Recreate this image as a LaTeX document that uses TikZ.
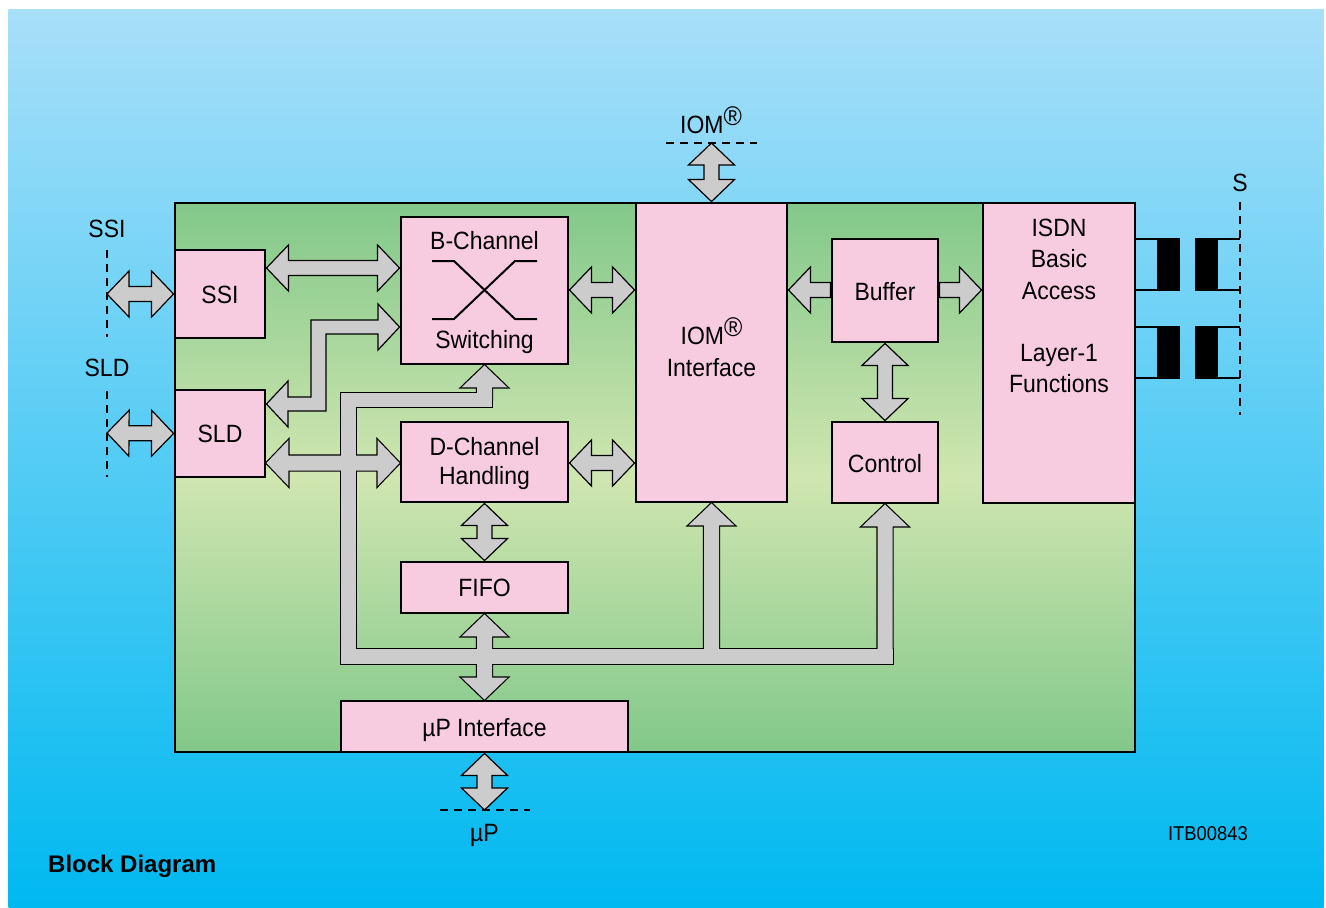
\documentclass[tikz,border=0pt]{standalone}
\usepackage{fontspec}
\setmainfont{Liberation Sans}[FakeStretch=0.92]
\newfontfamily\boldlabel{Liberation Sans}
\usetikzlibrary{calc}
\definecolor{bgtop}{RGB}{168,223,249}
\definecolor{bgbot}{RGB}{0,185,240}
\definecolor{gtop}{RGB}{130,200,138}
\definecolor{gmid}{RGB}{208,230,176}
\definecolor{pinkbox}{RGB}{248,204,224}
\definecolor{arrowgray}{RGB}{204,204,204}
\pgfdeclarelayer{back}
\pgfdeclarelayer{arr}
\pgfsetlayers{back,arr,main}
\newcommand\dblarrow[3][barrow]{%
  \path (#2) coordinate (tA) (#3) coordinate (tB);
  \coordinate (hA) at ($(tA)!22pt!(tB)$);
  \coordinate (hB) at ($(tB)!22pt!(tA)$);
  \path[#1] (tA) -- ($(hA)!23pt!90:(tB)$) -- ($(hA)!7.5pt!90:(tB)$) -- ($(hB)!7.5pt!-90:(tA)$) -- ($(hB)!23pt!-90:(tA)$) -- (tB) -- ($(hB)!23pt!90:(tA)$) -- ($(hB)!7.5pt!90:(tA)$) -- ($(hA)!7.5pt!-90:(tB)$) -- ($(hA)!23pt!-90:(tB)$) -- cycle;}
\newcommand\sglarrow[3][barrow]{%
  \path (#2) coordinate (tA) (#3) coordinate (tB);
  \coordinate (hA) at ($(tA)!22pt!(tB)$);
  \path[#1] (tA) -- ($(hA)!23pt!90:(tB)$) -- ($(hA)!7.5pt!90:(tB)$) -- ($(tB)!7.5pt!-90:(tA)$) -- ($(tB)!7.5pt!90:(tA)$) -- ($(hA)!7.5pt!-90:(tB)$) -- ($(hA)!23pt!-90:(tB)$) -- cycle;}
\newcommand\busgroup[1]{%
  \path[#1] (341,393) rectangle (356,664);
  \path[#1] (341,393) rectangle (492,407);
  \path[#1] (341,649) rectangle (892.5,664);
  \sglarrow[#1]{bch.south}{484.5,400}
  \sglarrow[#1]{iom.south}{711.5,656}
  \sglarrow[#1]{control.south}{885,656}
  \dblarrow[#1]{sld.east |- 0,463}{dch.west |- 0,463}
  \dblarrow[#1]{fifo.south}{mup.north}}
\begin{document}
\begin{tikzpicture}[x=1pt,y=-1pt,
  barrow/.style={fill=arrowgray,draw=black,line width=1.2,line join=miter},
  busout/.style={fill=arrowgray,draw=black,line width=2.4,line join=miter},
  busin/.style={fill=arrowgray},
  box/.style={draw=black,line width=2.9,fill=pinkbox,inner sep=0},
  txt/.style={font=\fontsize{25}{30}\selectfont,inner sep=0,anchor=base},
  dashline/.style={line width=1.3,dash pattern=on 8pt off 6pt},
  thinline/.style={line width=1.5},
  symline/.style={line width=2}]
\begin{pgfonlayer}{back}
\fill[white] (0,0) rectangle (1326,908);
\shade[top color=bgtop,bottom color=bgbot] (8.5,9) rectangle (1323.5,908);
\node[draw=black,line width=2.9,top color=gtop,bottom color=gtop,middle color=gmid,
  minimum width=960,minimum height=549,inner sep=0] (chip) at (655,477.5) {};
\end{pgfonlayer}
\useasboundingbox (0,0) rectangle (1326,908);
% boxes
\node[box,minimum width=90,minimum height=88] (ssi) at (220,294) {};
\node[box,minimum width=90,minimum height=87] (sld) at (220,433.5) {};
\node[box,minimum width=167,minimum height=147] (bch) at (484.5,290.5) {};
\node[box,minimum width=167,minimum height=80] (dch) at (484.5,462) {};
\node[box,minimum width=167,minimum height=51] (fifo) at (484.5,587.5) {};
\node[box,minimum width=287,minimum height=51] (mup) at (484.5,726.5) {};
\node[box,minimum width=151,minimum height=299] (iom) at (711.5,352.5) {};
\node[box,minimum width=106,minimum height=103] (buffer) at (885,290.5) {};
\node[box,minimum width=106,minimum height=81] (control) at (885,462.5) {};
\node[box,minimum width=152,minimum height=300] (isdn) at (1059,353) {};
% outside coordinates
\coordinate (iomext) at (711.5,143);
\coordinate (ssiext) at (107,294);
\coordinate (sldext) at (107,433);
\coordinate (mupext) at (484.5,810);
% arrows
\begin{pgfonlayer}{arr}
\dblarrow{iomext}{iom.north}
\dblarrow{ssiext}{ssi.west}
\dblarrow{sldext}{sld.west}
\dblarrow{ssi.east |- 0,268}{bch.west |- 0,268}
\dblarrow{bch.east |- 0,290}{iom.west |- 0,290}
\dblarrow{dch.east |- 0,463}{iom.west |- 0,463}
\dblarrow{buffer.south}{control.north}
\dblarrow{dch.south}{fifo.north}
\dblarrow{mup.south}{mupext}
\sglarrow{iom.east |- 0,290}{buffer.west |- 0,290}
\sglarrow{isdn.west |- 0,290}{buffer.east |- 0,290}
\path[barrow] (sld.east |- 0,404) -- (288,381) -- (288,397) -- (311,397) -- (311,320) -- (378,320) -- (378,304) -- (bch.west |- 0,327) -- (378,350) -- (378,334) -- (326,334) -- (326,411) -- (288,411) -- (288,427) -- cycle;
\busgroup{busout}
\busgroup{busin}
\end{pgfonlayer}
% switching symbol
\draw[symline] (432,261) -- (454,261) -- (515,319) -- (537,319);
\draw[symline] (432,319) -- (454,319) -- (515,261) -- (537,261);
% dashed lines
\draw[dashline] (666,143) -- (757,143);
\draw[dashline] (440,810) -- (530,810);
\draw[dashline] (107,250) -- (107,337);
\draw[dashline] (107,391) -- (107,477);
\draw[dashline] (1240,202) -- (1240,415);
% transformers
\foreach \ya/\yb in {239/290,327/378}{
  \draw[thinline] (isdn.east |- 0,\ya) -- (1180,\ya);
  \draw[thinline] (isdn.east |- 0,\yb) -- (1180,\yb);
  \draw[thinline] (1195,\ya) -- (1240,\ya);
  \draw[thinline] (1195,\yb) -- (1240,\yb);
  \fill[black] (1157,\ya) rectangle (1180,\yb);
  \fill[black] (1195,\ya) rectangle (1218,\yb);
}
% texts
\newcommand\reg{\raisebox{8pt}{\fontsize{27}{27}\selectfont ®}}
\node[txt] (tssi) at (220,303) {SSI};
\node[txt] (tsld) at (220,442) {SLD};
\node[txt] (tbch1) at (484.5,249) {B-Channel};
\node[txt] (tbch2) at (484.5,348) {Switching};
\node[txt] (tdch1) at (484.5,455) {D-Channel};
\node[txt] (tdch2) at (484.5,484) {Handling};
\node[txt] (tfifo) at (484.5,596) {FIFO};
\node[txt] (tmup) at (484.5,736) {µP Interface};
\node[txt] (tiom1) at (711.5,344) {IOM\reg};
\node[txt] (tiom2) at (711.5,376) {Interface};
\node[txt] (tbuf) at (885,300) {Buffer};
\node[txt] (tctl) at (885,472) {Control};
\node[txt] (tisdn1) at (1059,236) {ISDN};
\node[txt] (tisdn2) at (1059,267) {Basic};
\node[txt] (tisdn3) at (1059,299) {Access};
\node[txt] (tisdn4) at (1059,361) {Layer-1};
\node[txt] (tisdn5) at (1059,392) {Functions};
\node[txt] (liom) at (711,133) {IOM\reg};
\node[txt] (lssi) at (107,237) {SSI};
\node[txt] (lsld) at (107,376) {SLD};
\node[txt] (ls) at (1240,191) {S};
\node[txt] (lmup) at (484.5,841) {µP};
\node[txt,font=\fontsize{20}{24}\selectfont] (litb) at (1208,840) {ITB00843};
\node[txt,anchor=base west,font=\boldlabel\bfseries\fontsize{24}{28}\selectfont] (ltitle) at (48,872) {Block Diagram};
\end{tikzpicture}
\end{document}
